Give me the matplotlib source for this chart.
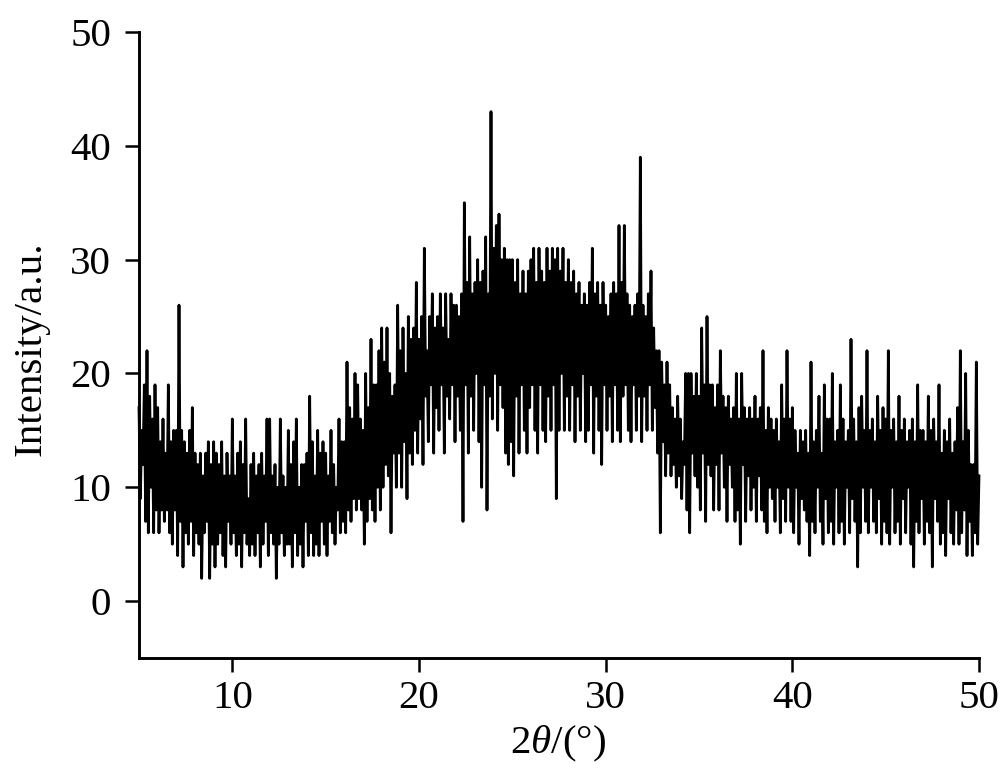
import numpy as np
import matplotlib
matplotlib.use('Agg')
import matplotlib.pyplot as plt

plt.rcParams['font.family'] = ['Liberation Serif']
plt.rcParams['mathtext.fontset'] = 'custom'
plt.rcParams['mathtext.rm'] = 'Liberation Serif'
plt.rcParams['mathtext.it'] = 'Liberation Serif:italic'

# counts, one row per degree of 2theta, peak/dip alternating
counts_05_14 = [
    17, 9, 15, 12, 19, 7, 22, 6, 18, 10, 16, 6, 19, 8,
    17, 6, 14, 8, 16, 7, 13, 8, 19, 6, 14, 5, 15, 8,
    15, 4, 26, 7, 15, 3, 14, 6, 13, 5, 15, 7, 17, 4,
    13, 6, 12, 5, 13, 2, 11, 6, 13, 7, 14, 2, 12, 5,
    14, 3, 13, 5, 12, 6, 14, 4, 11, 3, 13, 7, 11, 5,
    16, 6, 11, 4, 13, 5, 14, 3, 12, 6, 16, 5, 9, 4,
    12, 5, 13, 4, 11, 6, 12, 3, 13, 5, 11, 7, 16, 4,
    16, 6, 11, 5, 12, 2, 10, 5, 16, 6, 11, 4, 10, 5,
    15, 5, 12, 3, 14, 6, 16, 4, 10, 5, 12, 3, 12, 7,
    13, 4, 18, 6, 14, 4, 11, 5, 15, 4, 13, 7, 14, 5,
]
counts_15_24 = [
    13, 4, 11, 7, 15, 6, 12, 5, 10, 8, 16, 6, 14, 7,
    14, 6, 21, 8, 17, 7, 16, 9, 20, 8, 19, 9, 16, 8,
    15, 5, 20, 7, 17, 9, 23, 8, 19, 7, 19, 10, 22, 8,
    24, 10, 21, 12, 24, 11, 20, 6, 18, 13, 19, 10, 26, 13,
    22, 10, 24, 14, 20, 9, 25, 13, 23, 12, 24, 15, 28, 13,
    23, 16, 25, 12, 31, 18, 22, 14, 25, 19, 27, 13, 24, 17,
    25, 15, 27, 19, 24, 13, 27, 18, 23, 16, 27, 19, 26, 14,
    26, 18, 25, 15, 27, 7, 35, 19, 28, 13, 32, 18, 27, 15,
    28, 20, 30, 14, 28, 10, 29, 19, 32, 8, 27, 18, 43, 16,
    31, 20, 33, 15, 34, 19, 30, 17, 31, 13, 30, 12, 30, 14,
]
counts_25_34 = [
    30, 11, 28, 18, 30, 13, 27, 19, 29, 15, 27, 13, 29, 17,
    30, 19, 31, 15, 28, 13, 31, 19, 29, 15, 28, 14, 31, 18,
    29, 15, 31, 19, 30, 9, 31, 15, 29, 20, 31, 15, 28, 18,
    30, 15, 28, 19, 29, 14, 27, 18, 28, 15, 26, 20, 27, 14,
    26, 15, 28, 19, 31, 13, 27, 18, 28, 15, 26, 12, 28, 19,
    26, 15, 25, 18, 27, 14, 28, 19, 27, 15, 33, 14, 28, 18,
    33, 19, 27, 15, 26, 14, 25, 19, 26, 15, 27, 18, 39, 14,
    26, 18, 25, 15, 27, 19, 29, 15, 24, 17, 22, 13, 22, 6,
    21, 14, 19, 11, 21, 13, 19, 11, 17, 12, 16, 10, 18, 11,
    16, 9, 14, 12, 20, 8, 20, 6, 20, 13, 18, 11, 20, 10,
]
counts_35_44 = [
    18, 8, 24, 13, 19, 7, 25, 12, 19, 11, 19, 8, 17, 12,
    19, 8, 22, 13, 18, 10, 17, 7, 18, 12, 16, 10, 17, 7,
    20, 8, 16, 5, 20, 12, 17, 7, 16, 11, 17, 8, 16, 10,
    18, 7, 16, 11, 17, 8, 22, 7, 15, 6, 17, 10, 16, 9,
    15, 7, 16, 10, 14, 6, 19, 9, 16, 7, 22, 10, 16, 7,
    17, 6, 15, 10, 13, 5, 15, 9, 14, 8, 15, 7, 13, 4,
    21, 7, 14, 6, 15, 10, 18, 7, 13, 5, 19, 9, 16, 6,
    16, 7, 20, 5, 14, 10, 15, 6, 19, 7, 16, 5, 14, 10,
    15, 6, 23, 9, 16, 7, 14, 3, 17, 6, 18, 10, 15, 7,
    22, 6, 15, 10, 16, 7, 14, 6, 18, 9, 15, 5, 17, 7,
]
counts_45_49 = [
    16, 6, 22, 5, 15, 10, 16, 6, 14, 7, 18, 5, 15, 9,
    16, 6, 14, 10, 15, 5, 16, 3, 14, 7, 19, 6, 15, 9,
    15, 5, 14, 7, 18, 6, 15, 3, 16, 9, 14, 7, 19, 5,
    13, 6, 15, 4, 14, 9, 16, 6, 13, 5, 14, 8, 17, 5,
    22, 6, 14, 8, 20, 4, 15, 7, 12, 4, 12, 6, 21, 5,
]

counts = counts_05_14 + counts_15_24 + counts_25_34 + counts_35_44 + counts_45_49 + [11]
two_theta = np.linspace(5, 50, len(counts))

x_ticks = [10, 20, 30, 40, 50]
y_ticks = [0, 10, 20, 30, 40, 50]

fig = plt.figure(figsize=(10, 7.72), dpi=100)
ax = fig.add_axes([0.139, 1 - 658 / 772, 0.84, (658 - 32) / 772])
ax.plot(two_theta, counts, color='black', linewidth=2.0, solid_joinstyle='round', clip_on=False)
ax.set_xlim(5, 50)
ax.set_ylim(-5, 50)
ax.set_xticks(x_ticks)
ax.set_yticks(y_ticks)
ax.tick_params(axis='x', length=10, width=1.8, labelsize=29.5, pad=6)
ax.tick_params(axis='y', length=10, width=1.8, labelsize=29.5, pad=10)
ax.spines['top'].set_visible(False)
ax.spines['right'].set_visible(False)
ax.spines['left'].set_linewidth(2.1)
ax.spines['bottom'].set_linewidth(2.1)
ax.set_xlabel(r'2$\theta$/(°)', fontsize=29.5)
ax.set_ylabel('Intensity/a.u.', fontsize=29.5)
ax.xaxis.set_label_coords(0.4988, -0.105)
ax.yaxis.set_label_coords(-0.106, 0.4936)

plt.savefig('out.png', dpi=100)
plt.close()
